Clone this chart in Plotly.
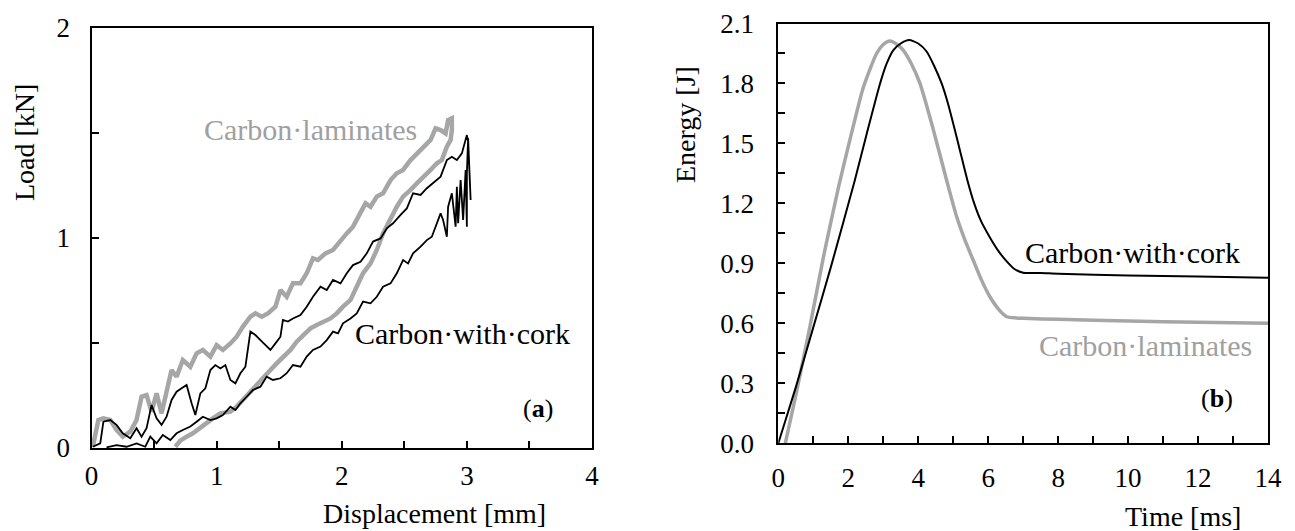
import plotly.graph_objects as go

# (a) load vs displacement -- traced loops
disp_lam = [0.01, 0.055, 0.095, 0.15, 0.2, 0.25, 0.31, 0.36, 0.40, 0.44, 0.48, 0.52, 0.56, 0.60, 0.64, 0.68,
            0.73, 0.79, 0.84, 0.89, 0.95, 1.0, 1.05, 1.11, 1.16, 1.21, 1.27, 1.31, 1.36, 1.41, 1.47, 1.51,
            1.56, 1.61, 1.67, 1.72, 1.77, 1.81, 1.87, 1.93, 1.99, 2.04, 2.09, 2.15, 2.19, 2.23, 2.28, 2.33,
            2.39, 2.44, 2.49, 2.55, 2.60, 2.65, 2.71, 2.75, 2.79, 2.83, 2.85, 2.88,
            2.88, 2.87, 2.84, 2.80, 2.76, 2.71, 2.65, 2.60, 2.55, 2.49, 2.44, 2.39, 2.33, 2.28, 2.23, 2.17,
            2.12, 2.07, 2.01, 1.96, 1.91, 1.85, 1.80, 1.75, 1.69, 1.64, 1.59, 1.53, 1.48, 1.43, 1.37, 1.32,
            1.27, 1.21, 1.16, 1.11, 1.03, 0.97, 0.92, 0.87, 0.81, 0.76, 0.71, 0.67]
load_lam = [0.006, 0.133, 0.141, 0.133, 0.086, 0.054, 0.078, 0.133, 0.244, 0.252, 0.173, 0.260, 0.165, 0.276,
            0.371, 0.340, 0.419, 0.387, 0.451, 0.467, 0.435, 0.490, 0.467, 0.498, 0.530, 0.578, 0.625, 0.641,
            0.625, 0.641, 0.673, 0.752, 0.720, 0.784, 0.784, 0.832, 0.903, 0.895, 0.927, 0.943, 0.990, 1.022,
            1.054, 1.117, 1.165, 1.149, 1.197, 1.213, 1.276, 1.308, 1.324, 1.371, 1.403, 1.435, 1.467, 1.522,
            1.514, 1.498, 1.562, 1.570,
            1.514, 1.467, 1.435, 1.371, 1.356, 1.324, 1.292, 1.260, 1.229, 1.197, 1.149, 1.086, 1.022, 0.943,
            0.879, 0.832, 0.768, 0.705, 0.673, 0.641, 0.617, 0.602, 0.586, 0.570, 0.538, 0.506, 0.467, 0.435,
            0.403, 0.371, 0.332, 0.300, 0.268, 0.229, 0.197, 0.173, 0.165, 0.141, 0.117, 0.094, 0.070, 0.054,
            0.035, 0.006]

disp_cork = [0.01, 0.07, 0.095, 0.15, 0.2, 0.25, 0.31, 0.36, 0.40, 0.44, 0.48, 0.52, 0.56, 0.60, 0.64, 0.68,
             0.72, 0.76, 0.80, 0.83, 0.87, 0.91, 0.95, 0.99, 1.03, 1.07, 1.11, 1.15, 1.19, 1.23, 1.27, 1.31,
             1.35, 1.39, 1.43, 1.47, 1.51, 1.53, 1.57, 1.61, 1.67, 1.72, 1.77, 1.83, 1.88, 1.93, 1.99, 2.04,
             2.09, 2.15, 2.20, 2.25, 2.31, 2.36, 2.41, 2.47, 2.52, 2.57, 2.63, 2.68, 2.73, 2.79, 2.84, 2.88,
             2.92, 2.96, 3.0, 3.01, 3.03, 3.01, 3.0,
             3.0, 2.99, 2.97, 2.95, 2.93, 2.92, 2.91, 2.88, 2.85, 2.84, 2.81, 2.79, 2.76, 2.72, 2.68, 2.63,
             2.57, 2.53, 2.49, 2.44, 2.39, 2.33, 2.28, 2.23, 2.17, 2.12, 2.07, 2.01, 1.97, 1.93, 1.88, 1.83,
             1.77, 1.72, 1.67, 1.61, 1.56, 1.51, 1.45, 1.40, 1.35, 1.29, 1.24, 1.19, 1.15, 1.11, 1.05, 1.0,
             0.95, 0.89, 0.84, 0.79, 0.73, 0.68, 0.63, 0.57, 0.52, 0.47, 0.43, 0.36, 0.28, 0.20, 0.12]
load_cork = [0.006, 0.022, 0.125, 0.133, 0.11, 0.07, 0.046, 0.094, 0.054, 0.094, 0.205, 0.141, 0.11, 0.149,
             0.229, 0.268, 0.284, 0.300, 0.213, 0.157, 0.260, 0.284, 0.371, 0.395, 0.379, 0.395, 0.324, 0.308,
             0.356, 0.387, 0.554, 0.538, 0.514, 0.490, 0.467, 0.498, 0.530, 0.610, 0.602, 0.617, 0.633, 0.673,
             0.720, 0.768, 0.752, 0.800, 0.784, 0.832, 0.871, 0.887, 0.927, 0.983, 0.998, 1.046, 1.070, 1.110,
             1.141, 1.213, 1.205, 1.237, 1.260, 1.292, 1.371, 1.387, 1.371, 1.403, 1.490, 1.459, 1.181, 1.475,
             1.308,
             1.054, 1.324, 1.086, 1.276, 1.070, 1.244, 1.054, 1.213, 1.149, 1.006, 1.086, 1.117, 1.070, 1.006,
             0.990, 0.959, 0.927, 0.879, 0.895, 0.832, 0.784, 0.768, 0.720, 0.689, 0.697, 0.641, 0.617, 0.594,
             0.546, 0.554, 0.514, 0.483, 0.467, 0.435, 0.387, 0.395, 0.356, 0.332, 0.324, 0.340, 0.292, 0.276,
             0.244, 0.213, 0.181, 0.197, 0.157, 0.141, 0.133, 0.149, 0.125, 0.102, 0.086, 0.070, 0.038, 0.062,
             0.022, 0.054, 0.006, 0.022, 0.006, 0.014, 0.003]

# (b) energy vs time
time_cork = [0, 0.5, 1.0, 1.5, 2.19, 2.53, 2.91, 3.1, 3.29, 3.5, 3.74, 4.0, 4.24, 4.45, 4.67, 4.85, 5.0, 5.2,
             5.4, 5.6, 5.8, 6.05, 6.3, 6.53, 6.75, 7.0, 7.5, 8, 10, 12, 14]
energy_cork = [0, 0.28, 0.58, 0.88, 1.317, 1.55, 1.8, 1.9, 1.967, 2.0, 2.017, 2.0, 1.96, 1.89, 1.8, 1.70,
               1.6, 1.46, 1.32, 1.2, 1.11, 1.03, 0.96, 0.91, 0.872, 0.853, 0.852, 0.848, 0.84, 0.835, 0.828]
time_lam = [0.2, 0.5, 0.9, 1.3, 1.72, 2.05, 2.43, 2.81, 3.0, 3.19, 3.4, 3.57, 3.8, 4.05, 4.43, 4.81, 5.1,
            5.35, 5.57, 5.8, 6.05, 6.3, 6.53, 6.8, 7.0, 8, 10, 12, 14]
energy_lam = [0, 0.24, 0.58, 0.94, 1.28, 1.52, 1.78, 1.95, 1.995, 2.013, 1.995, 1.967, 1.9, 1.8, 1.57, 1.317,
              1.133, 1.01, 0.917, 0.82, 0.733, 0.67, 0.633, 0.627, 0.625, 0.62, 0.612, 0.605, 0.60]

GRAY = "#a6a6a6"
SERIF = "Liberation Serif, Times New Roman, serif"
W, H = 1295, 531
PAGE = 8  # the page body adds an 8px offset

fig = go.Figure()
fig.add_trace(go.Scatter(x=disp_lam, y=load_lam, mode="lines", line=dict(color=GRAY, width=4.5),
                         xaxis="x", yaxis="y", showlegend=False))
fig.add_trace(go.Scatter(x=disp_cork, y=load_cork, mode="lines", line=dict(color="black", width=1.8),
                         xaxis="x", yaxis="y", showlegend=False))
fig.add_trace(go.Scatter(x=time_lam, y=energy_lam, mode="lines",
                         line=dict(color=GRAY, width=3.5, shape="spline", smoothing=0.6),
                         xaxis="x2", yaxis="y2", showlegend=False))
fig.add_trace(go.Scatter(x=time_cork, y=energy_cork, mode="lines",
                         line=dict(color="black", width=2, shape="spline", smoothing=0.6),
                         xaxis="x2", yaxis="y2", showlegend=False))


def xdom(a, b):
    return [(a - PAGE) / W, (b - PAGE) / W]


def ydom(top, bottom):
    return [1 - (bottom - PAGE) / H, 1 - (top - PAGE) / H]


minor_ticks = dict(ticks="inside", ticklen=7, tickwidth=2, tickcolor="black")
ax = dict(showline=True, linecolor="black", linewidth=2, mirror=True, showgrid=False, zeroline=False,
          ticks="inside", ticklen=7, tickwidth=2, tickcolor="black",
          tickfont=dict(family=SERIF, size=27, color="black"))

fig.update_layout(
    width=W, height=H,
    margin=dict(l=0, r=0, t=0, b=0, autoexpand=False),
    paper_bgcolor="white", plot_bgcolor="white",
    xaxis=dict(ax, domain=xdom(91.5, 592), range=[0, 4], dtick=1,
               minor=dict(minor_ticks, dtick=0.5), anchor="y", ticklabelstandoff=3),
    yaxis=dict(ax, domain=ydom(28, 448), range=[0, 2], dtick=1,
               minor=dict(minor_ticks, dtick=0.5), anchor="x", ticklabelstandoff=14),
    xaxis2=dict(ax, domain=xdom(778.3, 1268), range=[0, 14], dtick=2,
                minor=dict(minor_ticks, dtick=1), anchor="y2", ticklabelstandoff=9),
    yaxis2=dict(ax, domain=ydom(23.5, 443.3), range=[0, 2.1], dtick=0.3, tickformat=".1f",
                minor=dict(minor_ticks, dtick=0.15), anchor="x2", ticklabelstandoff=17),
)


def px_note(text, x, y, size=28, color="black", angle=0):
    # x, y: screen pixel centre of the text
    fig.add_annotation(text=text, x=(x - PAGE) / W, y=1 - (y - PAGE) / H, xref="paper", yref="paper",
                       showarrow=False, textangle=angle, xanchor="center", yanchor="middle",
                       font=dict(family=SERIF, size=size, color=color))


px_note("Load [kN]", 24, 143, angle=-90)
px_note("Displacement [mm]", 434, 513)
px_note("Energy [J]", 686, 125, angle=-90)
px_note("Time [ms]", 1183, 516)
px_note("Carbon·laminates", 310, 130, size=30, color="#a0a0a0")
px_note("Carbon·with·cork", 462, 333, size=30)
px_note("Carbon·with·cork", 1132, 252, size=30)
px_note("Carbon·laminates", 1145, 345, size=30, color="#a0a0a0")
px_note("(<b>a</b>)", 538, 408, size=26)
px_note("(<b>b</b>)", 1217, 398, size=26)

fig.write_html("out.html")
